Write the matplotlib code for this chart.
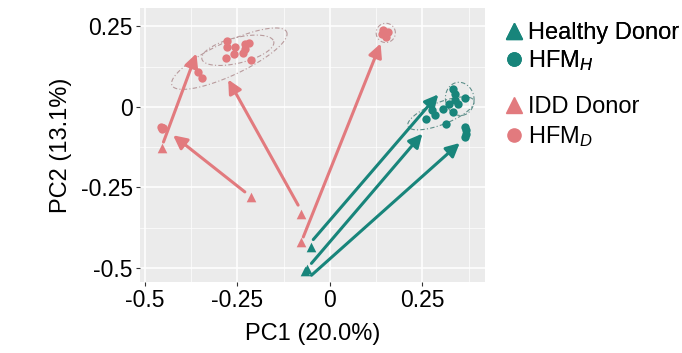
import numpy as np
import matplotlib
matplotlib.use("Agg")
import matplotlib.pyplot as plt
from matplotlib.lines import Line2D

plt.rcParams['font.family'] = ['Liberation Sans', 'DejaVu Sans']
plt.rcParams['mathtext.fontset'] = 'custom'
plt.rcParams['mathtext.rm'] = 'Liberation Sans'
plt.rcParams['mathtext.it'] = 'Liberation Sans:italic'

RED = '#E27A7E'
TEAL = '#18857B'

# donors (triangles)
idd_x = [-0.455, -0.214, -0.078, -0.077]
idd_y = [-0.129, -0.281, -0.333, -0.421]
healthy_x = [-0.051, -0.068, -0.062]
healthy_y = [-0.435, -0.509, -0.503]

# HFM samples (circles)
hfmd_x = [-0.458, -0.452, -0.455, -0.450, -0.356, -0.347,
          -0.279, -0.277, -0.257, -0.230, -0.219, -0.281, -0.259, -0.234, -0.230, -0.214,
          0.144, 0.158, 0.151, 0.142]
hfmd_y = [-0.062, -0.066, -0.070, -0.064, 0.109, 0.091,
          0.205, 0.186, 0.186, 0.197, 0.199, 0.153, 0.164, 0.169, 0.180, 0.147,
          0.238, 0.233, 0.217, 0.228]
hfmh_x = [0.333, 0.338, 0.365, 0.338, 0.347, 0.323, 0.306, 0.333, 0.275, 0.284, 0.259, 0.315,
          0.365, 0.369, 0.368, 0.365]
hfmh_y = [0.057, 0.041, 0.028, 0.023, 0.010, 0.008, -0.005, -0.016, -0.010, -0.026, -0.039, -0.054,
          -0.062, -0.072, -0.083, -0.093]

# arrows donor -> HFM
red_arrow_from = [(-0.450, -0.109), (-0.230, -0.264), (-0.086, -0.305), (-0.072, -0.404)]
red_arrow_to = [(-0.361, 0.166), (-0.424, -0.088), (-0.275, 0.085), (0.137, 0.197)]
teal_arrow_from = [(-0.045, -0.412), (-0.050, -0.486), (-0.050, -0.523)]
teal_arrow_to = [(0.293, 0.039), (0.250, -0.083), (0.351, -0.112)]

# ellipses: center, half major axis vector, half minor axis vector
red_ellipses = [((-0.272, 0.150), (0.155, 0.083), (0.019, -0.047)),
                ((-0.249, 0.176), (0.097, 0.028), (0.010, -0.038)),
                ((0.151, 0.230), (0.026, 0.0), (0.0, 0.030))]
teal_ellipses = [((0.300, -0.020), (0.089, 0.040), (0.011, -0.032)),
                 ((0.351, 0.025), (0.008, -0.051), (0.038, 0.008))]

fig = plt.figure(figsize=(6.82, 3.53), dpi=100)
ax = fig.add_axes([0.205, 0.201, 0.506, 0.776])
ax.set_facecolor('#EBEBEB')
for s in ax.spines.values():
    s.set_visible(False)

ax.set_xlim(-0.514, 0.419)
ax.set_ylim(-0.544, 0.307)
ax.set_xticks([-0.5, -0.25, 0, 0.25])
ax.set_xticklabels(['-0.5', '-0.25', '0', '0.25'])
ax.set_yticks([-0.5, -0.25, 0, 0.25])
ax.set_yticklabels(['-0.5', '-0.25', '0', '0.25'])
ax.set_xticks([-0.375, -0.125, 0.125, 0.375], minor=True)
ax.set_yticks([-0.375, -0.125, 0.125], minor=True)
ax.grid(True, which='major', color='white', lw=1.1)
ax.grid(True, which='minor', color='white', lw=0.5)
ax.set_axisbelow(True)
ax.tick_params(which='major', labelsize=16.5, color='#333333', length=3, width=0.8, pad=2)
ax.tick_params(which='minor', length=0)
ax.set_xlabel('PC1 (20.0%)', fontsize=17, labelpad=8)
ax.set_ylabel('PC2 (13.1%)', fontsize=17, labelpad=6)

t = np.linspace(0, 2 * np.pi, 200)
for ells, col in [(red_ellipses, '#B89A9C'), (teal_ellipses, '#5E8F8A')]:
    for (cx, cy), (ax_, ay_), (bx, by) in ells:
        ex = cx + ax_ * np.cos(t) + bx * np.sin(t)
        ey = cy + ay_ * np.cos(t) + by * np.sin(t)
        ax.plot(ex, ey, ls=(0, (4, 2, 1, 2)), color=col, lw=0.8, zorder=2)

for starts, ends, col in [(red_arrow_from, red_arrow_to, RED), (teal_arrow_from, teal_arrow_to, TEAL)]:
    for s, e in zip(starts, ends):
        ax.annotate('', xy=e, xytext=s,
                    arrowprops=dict(arrowstyle='-|>,head_length=0.9,head_width=0.45', color=col,
                                    lw=2.2, shrinkA=0, shrinkB=0, mutation_scale=9),
                    zorder=3)

ax.scatter(hfmd_x, hfmd_y, marker='o', s=36, color=RED, lw=0, zorder=4)
ax.scatter(hfmh_x, hfmh_y, marker='o', s=36, color=TEAL, lw=0, zorder=4)
ax.scatter(idd_x, idd_y, marker='^', s=48, color=RED, lw=0, zorder=4)
ax.scatter(healthy_x, healthy_y, marker='^', s=48, color=TEAL, lw=0, zorder=4)

h1 = [Line2D([], [], marker='^', color=TEAL, ls='', markersize=11),
      Line2D([], [], marker='o', color=TEAL, ls='', markersize=9.5)]
h2 = [Line2D([], [], marker='^', color=RED, ls='', markersize=11),
      Line2D([], [], marker='o', color=RED, ls='', markersize=9.5)]
leg1 = fig.legend(h1, ['Healthy Donor', r'HFM$_{H}$'], loc='upper left', bbox_to_anchor=(0.728, 0.965),
                  frameon=False, fontsize=17, handlelength=0.7, handletextpad=0.25,
                  labelspacing=0.2, borderaxespad=0)
leg2 = fig.legend(h2, ['IDD Donor', r'HFM$_{D}$'], loc='upper left', bbox_to_anchor=(0.728, 0.755),
                  frameon=False, fontsize=17, handlelength=0.7, handletextpad=0.25,
                  labelspacing=0.25, borderaxespad=0)
fig.add_artist(leg1)

fig.savefig('out.png', dpi=100)
